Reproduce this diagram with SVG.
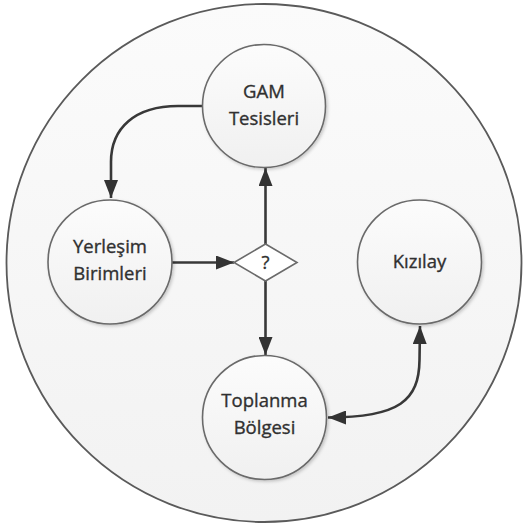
<svg xmlns="http://www.w3.org/2000/svg" width="523" height="529" viewBox="0 0 523 529">
<defs>
  <linearGradient id="gOuter" x1="0" y1="0" x2="0" y2="1">
    <stop offset="0" stop-color="#fbfbfb"/>
    <stop offset="1" stop-color="#f2f2f2"/>
  </linearGradient>
  <linearGradient id="gNode" x1="0" y1="0" x2="0" y2="1">
    <stop offset="0" stop-color="#fcfcfc"/>
    <stop offset="1" stop-color="#f0f0f0"/>
  </linearGradient>
  <filter id="shadow" x="-20%" y="-20%" width="140%" height="140%">
    <feDropShadow dx="1.5" dy="1.5" stdDeviation="1.5" flood-color="#000" flood-opacity="0.2"/>
  </filter>
  <marker id="arrow" viewBox="0 0 18 14" refX="18" refY="7" markerWidth="18" markerHeight="14" markerUnits="userSpaceOnUse" orient="auto-start-reverse">
    <path d="M0,0 L18,7 L0,14 Z" fill="#333333"/>
  </marker>
  <style>
    .node { fill: url(#gNode); stroke: #6a6a6a; stroke-width: 1.6; filter: url(#shadow); }
    .lbl { font-family: "Open Sans", "Liberation Sans", sans-serif; font-size: 18.5px; fill: #303030; stroke: #303030; stroke-width: 0.35; text-anchor: middle; }
    .conn { fill: none; stroke: #383838; stroke-width: 2.6; }
  </style>
</defs>
<rect width="523" height="529" fill="#ffffff"/>
<g id="boundary">
  <ellipse cx="264" cy="263" rx="257.5" ry="259" fill="url(#gOuter)" stroke="#5a5a5a" stroke-width="1.8"/>
</g>
<g id="connectors">
  <path class="conn" d="M203,106 L178,106 C135,106 111,128 111,162 L111,198" marker-end="url(#arrow)"/>
  <path class="conn" d="M265.5,244 L265.5,168" marker-end="url(#arrow)"/>
  <path class="conn" d="M172,262.5 L234,262.5" marker-end="url(#arrow)"/>
  <path class="conn" d="M265.5,281 L265.5,355" marker-end="url(#arrow)"/>
  <path class="conn" d="M328,417.5 C400,417.5 419,400 419.5,360 L420,326" marker-start="url(#arrow)" marker-end="url(#arrow)"/>
</g>
<g id="node-gam">
  <circle class="node" cx="264" cy="106" r="61.5"/>
  <text class="lbl" x="264" y="98">GAM</text>
  <text class="lbl" x="264" y="125">Tesisleri</text>
</g>
<g id="node-yerlesim">
  <circle class="node" cx="110" cy="262" r="62"/>
  <text class="lbl" x="110" y="253">Yerleşim</text>
  <text class="lbl" x="110" y="280">Birimleri</text>
</g>
<g id="node-kizilay">
  <circle class="node" cx="419.5" cy="262" r="62"/>
  <text class="lbl" x="419.5" y="268">Kızılay</text>
</g>
<g id="node-toplanma">
  <circle class="node" cx="264.5" cy="417.5" r="62"/>
  <text class="lbl" x="264.5" y="407">Toplanma</text>
  <text class="lbl" x="264.5" y="434">Bölgesi</text>
</g>
<g id="node-decision">
  <polygon points="265.5,244 297,262.5 265.5,281 234,262.5" fill="#ffffff" stroke="#6a6a6a" stroke-width="1.6"/>
  <text class="lbl" x="265.5" y="269">?</text>
</g>
</svg>
